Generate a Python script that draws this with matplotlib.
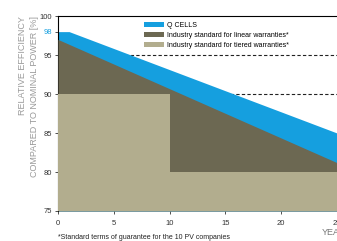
import matplotlib
matplotlib.use("Agg")
import matplotlib.pyplot as plt
import numpy as np

plt.rcParams['font.family'] = ['Liberation Sans Narrow', 'Liberation Sans', 'DejaVu Sans']

qcells_years = [0, 1, 25]
qcells_power = [98, 98, 85]
linear_years = [0, 25]
linear_power = [97, 81.2]
tiered_years = [0, 10, 10, 25]
tiered_power = [90, 90, 80, 80]

x_ticks = [0, 5, 10, 15, 20, 25]
y_ticks = [75, 80, 85, 90, 95, 100]

blue = "#159fdf"
dark = "#6c6852"
light = "#b2ad8e"

fig = plt.figure(figsize=(3.37, 2.41), dpi=100)
ax = fig.add_axes([0.172, 0.1245, 0.828, 0.809])

ax.axhline(95, color="#222222", lw=0.8, ls=(0, (3, 2)), zorder=1)
ax.axhline(90, color="#222222", lw=0.8, ls=(0, (3, 2)), zorder=1)

ax.fill_between(qcells_years, 75, qcells_power, color=blue, lw=0, zorder=2, label="Q CELLS")
ax.fill_between(linear_years, 75, linear_power, color=dark, lw=0, zorder=3,
                label="Industry standard for linear warranties*")
ax.fill_between(tiered_years, 75, tiered_power, color=light, lw=0, zorder=4,
                label="Industry standard for tiered warranties*")

ax.set_xlim(0, 24.9)
ax.set_ylim(75, 100)
ax.set_xticks(x_ticks)
ax.set_yticks(y_ticks + [98])
ax.tick_params(labelsize=5.5, length=2.5, width=0.6, colors="#333333")
ax.tick_params(axis="x", pad=4)
ax.tick_params(axis="y", pad=2)
for lab in ax.get_yticklabels():
    if lab.get_text() == "98":
        lab.set_color(blue)

for s in ["right", "bottom"]:
    ax.spines[s].set_visible(False)
ax.spines["top"].set_linewidth(0.8)
ax.spines["left"].set_linewidth(0.8)

fig.text(0.085, 0.935, "RELATIVE EFFICIENCY\nCOMPARED TO NOMINAL POWER [%]", fontsize=6.5,
         color="#9a9a9a", rotation=90, ha="center", va="top", multialignment="right",
         linespacing=1.35)

ax.legend(loc="upper left", bbox_to_anchor=(0.29, 1.0), frameon=False, fontsize=5,
          handlelength=2.8, handleheight=0.7, handletextpad=0.5, labelspacing=0.45,
          borderaxespad=0.4)

fig.text(0.172, 0.01, "*Standard terms of guarantee for the 10 PV companies",
         fontsize=5, color="#222222")
fig.text(0.955, 0.025, "YEARS", fontsize=6.5, color="#777777")

fig.savefig("out.png", dpi=100)
